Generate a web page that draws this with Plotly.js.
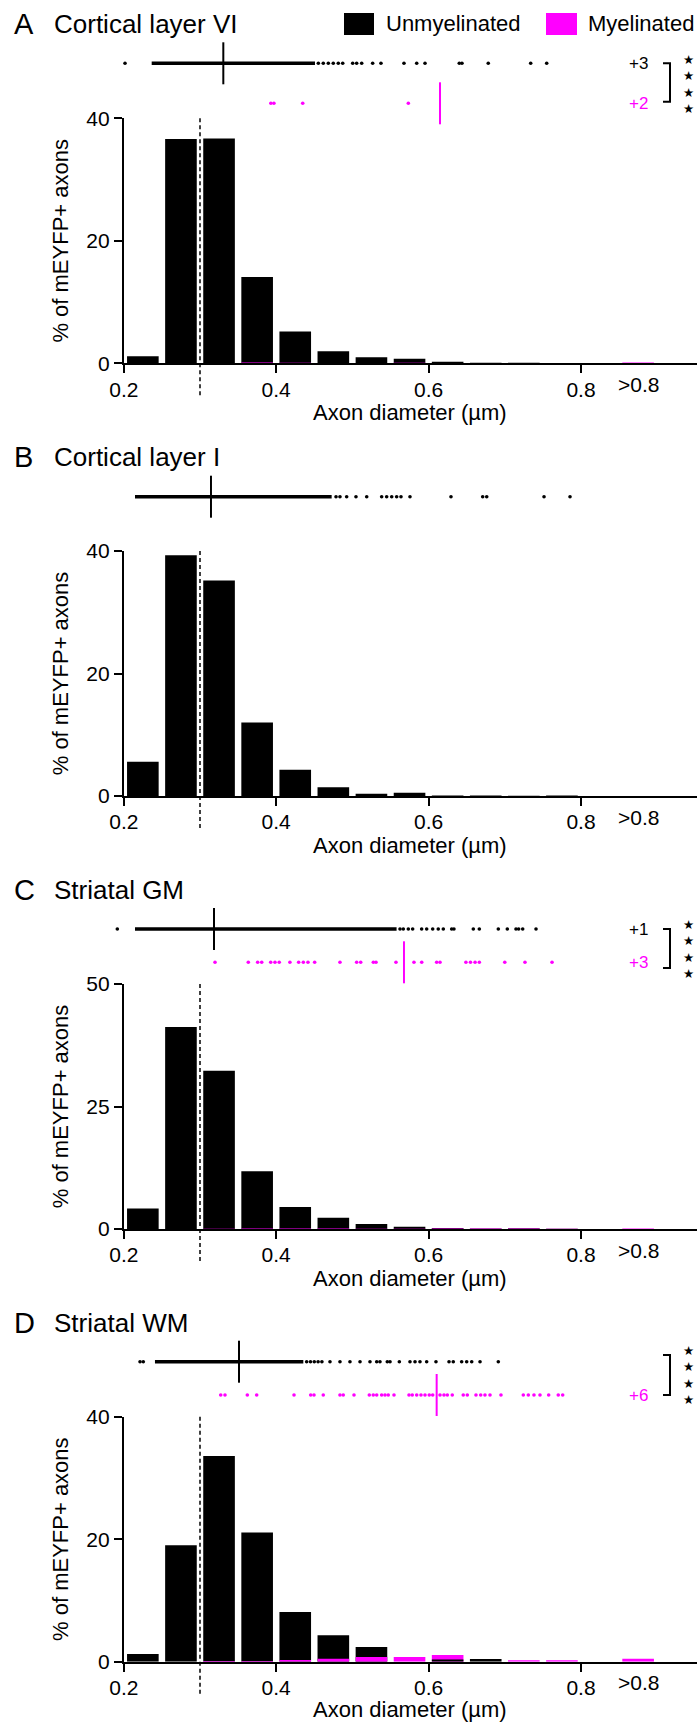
<!DOCTYPE html>
<html><head><meta charset="utf-8">
<script src="https://cdn.plot.ly/plotly-3.0.1.min.js"></script>
<style>html,body{margin:0;padding:0;background:#fff;}#chart{width:698px;height:1722px;}</style>
</head><body><div id="chart"></div>
<script>
// ================= DATA =================
const binCenters = [0.225,0.275,0.325,0.375,0.425,0.475,0.525,0.575,0.625,0.675,0.725,0.775,0.875];
const xTickVals = [0.2,0.4,0.6,0.8];
const xTickText = ['0.2','0.4','0.6','0.8'];
const overflowLabel = '>0.8';
const overflowX = 0.875;
const thresholdX = 0.3;

const panelLetters = ['A','B','C','D'];
const panelTitles = ['Cortical layer VI','Cortical layer I','Striatal GM','Striatal WM'];
const yTicksA = [0,20,40], yTicksB = [0,20,40], yTicksC = [0,25,50], yTicksD = [0,20,40];
const yMaxes = [40,40,50,40];
const seriesNames = ['Unmyelinated','Myelinated'];
const xTitle = 'Axon diameter (µm)';
const yTitle = '% of mEYFP+ axons';

// histogram percentages (per bin)
const unmyelA = [1.14,36.6,36.7,14.1,5.2,1.96,0.98,0.76,0.27,0.08,0.08,0.06,0];
const myelA   = [0,0,0,0.12,0.09,0,0,0.08,0,0,0,0,0.12];
const unmyelB = [5.6,39.3,35.2,12.0,4.3,1.41,0.38,0.54,0.1,0.1,0.05,0.1,0];
const myelB   = [0,0,0,0,0,0,0,0,0,0,0,0,0];
const unmyelC = [4.2,41.2,32.3,11.8,4.5,2.3,1.0,0.45,0.2,0.1,0.15,0.05,0];
const myelC   = [0,0,0.05,0.1,0.1,0.08,0.06,0.05,0.1,0.1,0.1,0.03,0.1];
const unmyelD = [1.25,19.0,33.6,21.1,8.1,4.3,2.4,0,0.35,0.45,0,0,0];
const myelD   = [0,0,0.1,0.1,0.27,0.49,0.76,0.76,1.1,0,0.22,0.22,0.49];

// strip plots: dense band [start,end], individual dots, medians [unmyel, myel], off-scale counts
const bandA = [0.2366,0.4509];
const dotsUA = [0.2016,0.4553,0.4618,0.4684,0.4749,0.4815,0.4873,0.5004,0.5056,0.5122,0.5266,0.5375,0.5677,0.5844,0.5953,0.6403,0.6438,0.6783,0.734,0.755];
const dotsMA = [0.393,0.397,0.4348,0.5734];
const medA = [0.3306,0.615];
const extraA = ['+3','+2'];

const bandB = [0.2147,0.4728];
const dotsUB = [0.4785,0.4837,0.4925,0.5047,0.5188,0.5384,0.545,0.5516,0.5581,0.5638,0.5756,0.6294,0.671,0.6763,0.7515,0.7856];
const dotsMB = [];
const medB = [0.3144,null];
const extraB = ['',''];

const bandC = [0.2147,0.558];
const dotsUC = [0.1915,0.5625,0.5668,0.5734,0.5791,0.5909,0.5975,0.6054,0.6127,0.6193,0.6303,0.6333,0.6587,0.6666,0.6915,0.7033,0.7147,0.7182,0.7235,0.741];
const dotsMC = [0.3197,0.3634,0.3757,0.381,0.3928,0.3984,0.404,0.418,0.4295,0.4356,0.4417,0.4505,0.4837,0.5056,0.5109,0.5275,0.531,0.5572,0.5808,0.591,0.6106,0.615,0.649,0.655,0.661,0.6666,0.700,0.7265,0.762];
const medC = [0.3184,0.5677];
const extraC = ['+1','+3'];

const bandD = [0.2409,0.4356];
const dotsUD = [0.2213,0.2256,0.44,0.445,0.45,0.455,0.46,0.4706,0.4837,0.4968,0.51,0.5231,0.5319,0.5362,0.5458,0.5494,0.5616,0.5756,0.5822,0.5887,0.5975,0.6097,0.6268,0.6324,0.6434,0.65,0.6566,0.6675,0.6915];
const dotsMD = [0.3272,0.3328,0.3621,0.3744,0.4234,0.4453,0.4496,0.4618,0.4837,0.488,0.5021,0.5222,0.5274,0.5319,0.5384,0.5428,0.5471,0.5546,0.5743,0.5786,0.5844,0.59,0.5953,0.6009,0.6054,0.615,0.6202,0.6246,0.6311,0.6455,0.6508,0.6622,0.6684,0.674,0.6806,0.695,0.7243,0.7309,0.7383,0.7462,0.7576,0.7702,0.776];
const medD = [0.3512,0.6106];
const extraD = ['','+6'];

const significance = ['****','','****','****'];

// ================= LAYOUT / DRAW =================
const BLACK = '#000000', MAG = '#FF00FF';
const FONT = 'Liberation Sans, Arial, Helvetica, sans-serif';
const W = 698, H = 1722;
const py = p => 1 - p / H;
const pxp = p => p / W;
const histTop = [118.3, 551, 984, 1416.7];
const histH = 245;
const rowB = [63.3, 496.7, 929, 1361.7];
const rowM = [103.3, 536.7, 962.3, 1395];
const titleY = [24, 457.5, 890, 1323];
const xTitleOff = [49.5, 49.5, 49.5, 47.5];
const bracket = [[63.3,101.7],null,[929,968],[1355,1395]];
const starMid = [84, null, 949, 1375];
const xDom = [123.8 / W, 696.8 / W];
const xRange = [0.2, 0.952];

const U = [unmyelA, unmyelB, unmyelC, unmyelD];
const M = [myelA, myelB, myelC, myelD];
const yTicks = [yTicksA, yTicksB, yTicksC, yTicksD];
const bands = [bandA, bandB, bandC, bandD];
const dotsU = [dotsUA, dotsUB, dotsUC, dotsUD];
const dotsM = [dotsMA, dotsMB, dotsMC, dotsMD];
const meds = [medA, medB, medC, medD];
const extras = [extraA, extraB, extraC, extraD];

const traces = [];
const layout = {
  width: W, height: H, margin: {l:0, r:0, t:0, b:0},
  paper_bgcolor: '#fff', plot_bgcolor: 'rgba(0,0,0,0)',
  showlegend: false, barmode: 'overlay',
  font: {family: FONT, color: BLACK, size: 21},
  annotations: [], shapes: []
};

// shared invisible strip x axis (same scale as the histogram axes, extended left)
layout.xaxis5 = {domain: [85.7 / W, 696.8 / W], range: [0.15, 0.952], visible: false, fixedrange: true, anchor: 'y5'};

for (let i = 0; i < 4; i++) {
  const n = i + 1;
  const xk = i === 0 ? 'x' : 'x' + n, yk = i === 0 ? 'y' : 'y' + n;
  const xa = i === 0 ? 'xaxis' : 'xaxis' + n, ya = i === 0 ? 'yaxis' : 'yaxis' + n;
  const sy = 'y' + (n + 4), sya = 'yaxis' + (n + 4);
  const top = histTop[i], bot = histTop[i] + histH;

  layout[xa] = {
    domain: xDom, range: xRange, anchor: yk, showgrid: false, zeroline: false,
    showline: true, linewidth: 2, linecolor: BLACK, ticks: 'outside', ticklen: 8, tickwidth: 2, tickcolor: BLACK,
    tickvals: xTickVals, ticktext: xTickText, tickfont: {size: 21, family: FONT}, ticklabelstandoff: -2, fixedrange: true
  };
  layout[ya] = {
    domain: [py(bot), py(top)], range: [0, yMaxes[i]], anchor: xk, showgrid: false, zeroline: false,
    showline: true, linewidth: 2, linecolor: BLACK, ticks: 'outside', ticklen: 8, tickwidth: 2, tickcolor: BLACK,
    tickvals: yTicks[i], tickfont: {size: 21, family: FONT},
    title: {text: yTitle, font: {size: 22, family: FONT}, standoff: 12}, fixedrange: true
  };

  // x-axis title (placed explicitly so the last one is not pushed up by the page edge)
  layout.annotations.push({text: xTitle, xref: 'paper', yref: 'paper', x: (xDom[0] + xDom[1]) / 2, y: py(bot + xTitleOff[i]), xanchor: 'center', yanchor: 'middle', showarrow: false, font: {size: 22, family: FONT, color: BLACK}});

  // bars: larger value behind, smaller in front
  const u = U[i], m = M[i];
  const back = u.map((v, k) => Math.max(v, m[k]));
  const backCol = u.map((v, k) => v >= m[k] ? BLACK : MAG);
  const front = u.map((v, k) => Math.min(v, m[k]));
  const frontCol = u.map((v, k) => v >= m[k] ? MAG : BLACK);
  traces.push({type: 'bar', name: 'back', x: binCenters, y: back, width: 0.0415, marker: {color: backCol, line: {width: 0}}, xaxis: xk, yaxis: yk, hoverinfo: 'skip'});
  traces.push({type: 'bar', name: 'front', x: binCenters, y: front, width: 0.0415, marker: {color: frontCol, line: {width: 0}}, xaxis: xk, yaxis: yk, hoverinfo: 'skip'});

  // strip axis
  const d = rowM[i] - rowB[i];
  layout[sya] = {
    domain: [py(rowM[i] + 20), py(rowB[i] - 20)], range: [-20 / d, 1 + 20 / d],
    anchor: 'x5', visible: false, fixedrange: true
  };
  const b = bands[i];
  traces.push({type: 'scatter', mode: 'lines', x: [b[0], b[1]], y: [1, 1], line: {color: BLACK, width: 3.4}, xaxis: 'x5', yaxis: sy, cliponaxis: false, hoverinfo: 'skip'});
  traces.push({type: 'scatter', mode: 'markers', x: dotsU[i], y: dotsU[i].map(() => 1), marker: {color: BLACK, size: 3.6}, xaxis: 'x5', yaxis: sy, cliponaxis: false, hoverinfo: 'skip'});
  if (dotsM[i].length) {
    traces.push({type: 'scatter', mode: 'markers', x: dotsM[i], y: dotsM[i].map(() => 0), marker: {color: MAG, size: 3.6}, xaxis: 'x5', yaxis: sy, cliponaxis: false, hoverinfo: 'skip'});
  }
  const md = meds[i];
  traces.push({type: 'scatter', mode: 'markers', x: [md[0]], y: [1], marker: {symbol: 'line-ns-open', size: 30, color: BLACK, line: {width: 2, color: BLACK}}, xaxis: 'x5', yaxis: sy, cliponaxis: false, hoverinfo: 'skip'});
  if (md[1] !== null) {
    traces.push({type: 'scatter', mode: 'markers', x: [md[1]], y: [0], marker: {symbol: 'line-ns-open', size: 30, color: MAG, line: {width: 2, color: MAG}}, xaxis: 'x5', yaxis: sy, cliponaxis: false, hoverinfo: 'skip'});
  }

  // panel letter and title
  layout.annotations.push({text: panelLetters[i], xref: 'paper', yref: 'paper', x: pxp(12), y: py(titleY[i]), xanchor: 'left', yanchor: 'middle', showarrow: false, font: {size: 29, family: FONT, color: BLACK}});
  layout.annotations.push({text: panelTitles[i], xref: 'paper', yref: 'paper', x: pxp(52), y: py(titleY[i]), xanchor: 'left', yanchor: 'middle', showarrow: false, font: {size: 26, family: FONT, color: BLACK}});

  // overflow tick label
  layout.annotations.push({text: overflowLabel, xref: xk, yref: 'paper', x: overflowX, y: py(bot + 21), xanchor: 'center', yanchor: 'middle', showarrow: false, font: {size: 21, family: FONT, color: BLACK}});

  // off-scale counts
  const ex = extras[i];
  if (ex[0]) layout.annotations.push({text: ex[0], xref: 'paper', yref: 'paper', x: pxp(650), y: py(rowB[i]), xanchor: 'right', yanchor: 'middle', showarrow: false, font: {size: 17, family: FONT, color: BLACK}});
  if (ex[1]) layout.annotations.push({text: ex[1], xref: 'paper', yref: 'paper', x: pxp(650), y: py(rowM[i]), xanchor: 'right', yanchor: 'middle', showarrow: false, font: {size: 17, family: FONT, color: MAG}});

  // significance bracket and stars (one stacked text)
  if (significance[i]) {
    const br = bracket[i];
    layout.shapes.push({type: 'path', xref: 'paper', yref: 'paper',
      path: `M ${pxp(663)} ${py(br[0])} L ${pxp(670)} ${py(br[0])} L ${pxp(670)} ${py(br[1])} L ${pxp(663)} ${py(br[1])}`,
      line: {color: BLACK, width: 2}});
    const starText = significance[i].split('').map(() => '★').join('<br>');
    layout.annotations.push({text: starText, xref: 'paper', yref: 'paper', x: pxp(688), y: py(starMid[i]), xanchor: 'center', yanchor: 'middle', showarrow: false, font: {size: 12.5, family: 'DejaVu Sans', color: BLACK}});
  }

  // threshold dashed line
  layout.shapes.push({type: 'line', xref: xk, yref: yk + ' domain', x0: thresholdX, x1: thresholdX, y0: -32 / histH, y1: 1,
    line: {color: BLACK, width: 1.5, dash: '4px,3px'}});
}

// legend
layout.shapes.push({type: 'rect', xref: 'paper', yref: 'paper', x0: pxp(344), x1: pxp(374), y0: py(35), y1: py(13), fillcolor: BLACK, line: {width: 0}});
layout.shapes.push({type: 'rect', xref: 'paper', yref: 'paper', x0: pxp(546), x1: pxp(577), y0: py(35), y1: py(13), fillcolor: MAG, line: {width: 0}});
layout.annotations.push({text: seriesNames[0], xref: 'paper', yref: 'paper', x: pxp(384), y: py(24), xanchor: 'left', yanchor: 'middle', showarrow: false, font: {size: 22, family: FONT, color: BLACK}});
layout.annotations.push({text: seriesNames[1], xref: 'paper', yref: 'paper', x: pxp(586), y: py(24), xanchor: 'left', yanchor: 'middle', showarrow: false, font: {size: 22, family: FONT, color: BLACK}});

Plotly.newPlot('chart', traces, layout, {staticPlot: true, displayModeBar: false});
</script>
</body></html>
